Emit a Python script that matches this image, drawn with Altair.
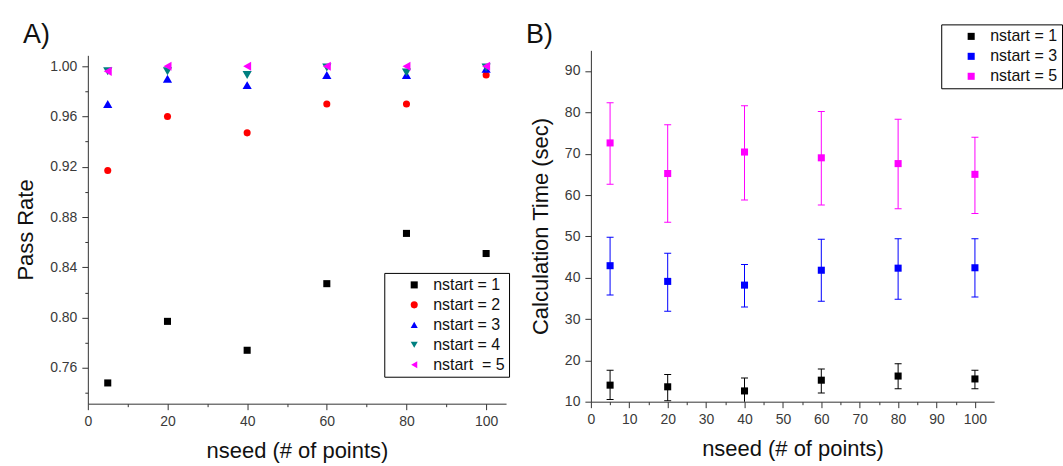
import altair as alt
import pandas as pd

FONT = "Liberation Sans"

# ---- Panel A: pass rate vs. number of seed points ----
nseed = [5, 20, 40, 60, 80, 100]
series_a = ["nstart = 1", "nstart = 2", "nstart = 3", "nstart = 4", "nstart \u00a0= 5"]
rate_n1 = [0.748, 0.797, 0.774, 0.827, 0.867, 0.851]
rate_n2 = [0.917, 0.960, 0.947, 0.970, 0.970, 0.993]
rate_n3 = [0.970, 0.990, 0.985, 0.993, 0.993, 0.998]
rate_n4 = [0.996, 0.996, 0.993, 0.999, 0.995, 0.999]
rate_n5 = [0.996, 1.000, 1.000, 1.000, 1.000, 1.000]
colors_a = ["#000000", "#ff0000", "#0000ff", "#008080", "#ff00ff"]
shapes_a = ["square", "circle", "triangle-up", "triangle-down", "triangle-left"]

# ---- Panel B: calculation time with spread ----
series_b = ["nstart = 1", "nstart = 3", "nstart = 5"]
time_n1 = [14.0, 13.6, 12.6, 15.2, 16.2, 15.5]
lo_n1 = [10.5, 10.2, 9.5, 12.1, 13.1, 13.1]
hi_n1 = [17.6, 16.6, 15.7, 17.9, 19.2, 17.6]
time_n3 = [42.9, 39.1, 38.2, 41.8, 42.3, 42.4]
lo_n3 = [35.8, 31.9, 32.9, 34.3, 34.8, 35.3]
hi_n3 = [49.8, 45.9, 43.2, 49.3, 49.4, 49.4]
time_n5 = [72.6, 65.2, 70.4, 69.0, 67.6, 65.0]
lo_n5 = [62.6, 53.4, 58.8, 57.6, 56.7, 55.5]
hi_n5 = [82.3, 77.0, 81.6, 80.2, 78.3, 74.0]
colors_b = ["#000000", "#0000ff", "#ff00ff"]

panel_labels = ["A)", "B)"]

rows_a = []
for k, (name, vals) in enumerate(zip(series_a, [rate_n1, rate_n2, rate_n3, rate_n4, rate_n5])):
    for x, v in zip(nseed, vals):
        rows_a.append({"nseed": x, "rate": v, "series_a": name, "order": k})
df_a = pd.DataFrame(rows_a)

rows_b = []
for name, t, lo, hi in zip(series_b, [time_n1, time_n3, time_n5],
                           [lo_n1, lo_n3, lo_n5], [hi_n1, hi_n3, hi_n5]):
    for x, tv, l, h in zip(nseed, t, lo, hi):
        rows_b.append({"nseed": x, "time": tv, "lo": l, "hi": h, "series_b": name})
df_b = pd.DataFrame(rows_b)

TICK_COLOR = "#333333"


def axis(title, values, major_test, fmt=None):
    kw = dict(
        title=title,
        values=values,
        tickSize={"condition": {"test": major_test, "value": 6}, "value": 3},
        labelExpr=f"({major_test}) ? datum.label : ''",
        labelOverlap=False,
        labelFlush=False,
        grid=False,
    )
    if fmt:
        kw["format"] = fmt
    return alt.Axis(**kw)


def panel_label(text):
    # panel letter drawn just above the top-left corner of the plot area
    return alt.Chart(pd.DataFrame({"label": [text]})).mark_text(
        align="left", baseline="alphabetic", fontSize=27, font=FONT, color="#111111"
    ).encode(text="label:N", x=alt.value(-65), y=alt.value(-7))


def legend(x, y, **extra):
    return alt.Legend(
        orient="none", legendX=x, legendY=y, title=None, padding=4,
        strokeColor="#000000", fillColor="#ffffff",
        symbolOffset=18, labelOffset=11, rowPadding=4,
        labelFont=FONT, labelFontSize=16, labelColor="#111111",
        symbolSize=50, symbolStrokeWidth=0, **extra,
    )


# ---- chart A ----
leg_a = legend(297, 223)
x_a = alt.X(
    "nseed:Q",
    scale=alt.Scale(domain=[0, 105], nice=False, zero=False),
    axis=axis("nseed (# of points)", list(range(0, 101, 10)), "datum.value % 20 === 0"),
)
y_a = alt.Y(
    "rate:Q",
    scale=alt.Scale(domain=[0.7315, 1.0087], nice=False, zero=False, range=[354, 5]),
    axis=axis("Pass Rate", [round(0.74 + 0.02 * i, 2) for i in range(14)],
              "round(datum.value * 100) % 4 === 0", fmt=".2f"),
)
enc_a = dict(
    x=x_a,
    y=y_a,
    color=alt.Color("series_a:N", scale=alt.Scale(domain=series_a, range=colors_a), legend=leg_a),
    shape=alt.Shape("series_a:N", scale=alt.Scale(domain=series_a, range=shapes_a), legend=leg_a),
    order=alt.Order("order:Q"),
)
base_a = alt.Chart(df_a)
# squares and circles
round_a = base_a.mark_point(filled=True, opacity=1, size=50).encode(**enc_a).transform_filter(
    "datum.order < 2"
)
# triangles are drawn a bit larger
tri_a = base_a.mark_point(filled=True, opacity=1, size=85).encode(**enc_a).transform_filter(
    "datum.order >= 2"
)
chart_a = alt.layer(round_a, tri_a, panel_label(panel_labels[0])).properties(width=419, height=354)

# ---- chart B ----
leg_b = legend(351, -26, symbolType="square")
x_b = alt.X(
    "nseed:Q",
    scale=alt.Scale(domain=[0, 105], nice=False, zero=False),
    axis=axis("nseed (# of points)", list(range(0, 101, 5)), "datum.value % 10 === 0"),
)
y_scale_b = alt.Scale(domain=[10, 95], nice=False, zero=False)
y_b = alt.Y(
    "time:Q",
    scale=y_scale_b,
    axis=axis("Calculation Time (sec)", list(range(10, 96, 5)), "datum.value % 10 === 0"),
)
color_b = alt.Color("series_b:N", scale=alt.Scale(domain=series_b, range=colors_b), legend=leg_b)

base_b = alt.Chart(df_b)
bars_b = base_b.mark_rule(strokeWidth=1, clip=True).encode(
    x=x_b, y=alt.Y("lo:Q", scale=y_scale_b), y2="hi:Q", color=color_b
)
cap_lo = base_b.mark_tick(orient="horizontal", size=7, thickness=1, opacity=1, clip=True).encode(
    x=x_b, y=alt.Y("lo:Q", scale=y_scale_b), color=color_b
)
cap_hi = base_b.mark_tick(orient="horizontal", size=7, thickness=1, opacity=1, clip=True).encode(
    x=x_b, y=alt.Y("hi:Q", scale=y_scale_b), color=color_b
)
pts_b = base_b.mark_point(shape="square", filled=True, opacity=1, size=50).encode(
    x=x_b, y=y_b, color=color_b
)
chart_b = alt.layer(bars_b, cap_lo, cap_hi, pts_b, panel_label(panel_labels[1])).properties(
    width=404, height=352
)

chart = alt.hconcat(chart_a, chart_b, spacing=85, bounds="flush").resolve_scale(
    color="independent", shape="independent"
).configure(
    padding={"left": 14, "top": 20, "right": 0, "bottom": 0}
).configure_view(stroke="transparent").configure_axis(
    labelFont=FONT, labelFontSize=14, labelColor="#3a3a3a", labelPadding=5,
    titleFont=FONT, titleFontSize=22, titleFontWeight="normal", titleColor="#111111",
    titlePadding=12, domainColor=TICK_COLOR, tickColor=TICK_COLOR,
)

chart.save("out.html", embed_options={"renderer": "svg", "actions": False})
